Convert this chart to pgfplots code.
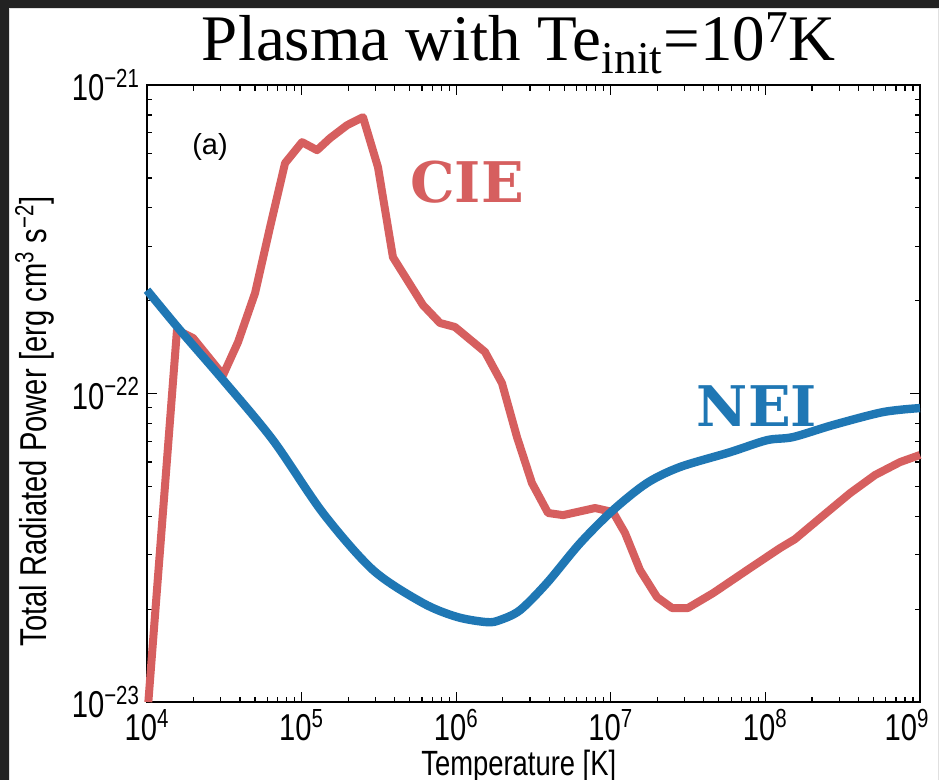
\documentclass[border=0pt]{standalone}
\usepackage{fontspec}
\setmainfont{Liberation Sans}
\newfontfamily\titlefont{Liberation Serif}
\newfontfamily\slabfont{DejaVu Serif}
\usepackage{graphicx}
\usepackage{pgfplots}
\pgfplotsset{compat=1.18}
\definecolor{cieRed}{HTML}{D65F5F}
\definecolor{neiBlue}{HTML}{1F77B4}
\definecolor{shotFrame}{HTML}{222222}
\newcommand\tall[1]{\scalebox{1}[1.28]{#1}}

\begin{document}
\begin{tikzpicture}
% screenshot frame: 1px = 0.5pt, axis box south west corner at (147,702)px
\fill[white] (-73.5pt,-39pt) rectangle (396pt,351pt);
\useasboundingbox (-73.5pt,-39pt) rectangle (396pt,351pt);
\fill[shotFrame] (-73.5pt,347pt) rectangle (396pt,351pt);
\fill[shotFrame] (-73.5pt,-39pt) rectangle (-69pt,351pt);
\draw[black!12, line width=0.5pt] (-68.75pt,-39pt) -- (-68.75pt,346.75pt) -- (396pt,346.75pt);
\draw[black!12, line width=0.5pt] (395.5pt,-39pt) -- (395.5pt,346.75pt);

\begin{axis}[
  at={(0,0)}, anchor=south west,
  scale only axis, width=386.5pt, height=308.5pt,
  xmode=log, ymode=log,
  xmin=1e4, xmax=1e9, ymin=1e-23, ymax=1e-21,
  clip=false,
  axis line style={line width=1pt},
  xtick pos=both, ytick pos=both, tick align=inside,
  major tick length=5pt, minor tick length=2.75pt,
  every tick/.style={black, line width=0.6pt},
  xtick={1e4,1e5,1e6,1e7,1e8,1e9},
  xticklabels={\tall{10\textsuperscript{4}},\tall{10\textsuperscript{5}},\tall{10\textsuperscript{6}},
    \tall{10\textsuperscript{7}},\tall{10\textsuperscript{8}},\tall{10\textsuperscript{9}}\kern13pt},
  minor xtick={2e4,3e4,4e4,5e4,6e4,7e4,8e4,9e4,
    2e5,3e5,4e5,5e5,6e5,7e5,8e5,9e5,
    2e6,3e6,4e6,5e6,6e6,7e6,8e6,9e6,
    2e7,3e7,4e7,5e7,6e7,7e7,8e7,9e7,
    2e8,3e8,4e8,5e8,6e8,7e8,8e8,9e8},
  ytick={1e-23,1e-22,1e-21},
  yticklabels={\tall{10\textsuperscript{−23}},\tall{10\textsuperscript{−22}},\tall{10\textsuperscript{−21}}},
  minor ytick={2e-23,3e-23,4e-23,5e-23,6e-23,7e-23,8e-23,9e-23,
    2e-22,3e-22,4e-22,5e-22,6e-22,7e-22,8e-22,9e-22},
  ticklabel style={font=\fontsize{14.6}{18}\selectfont},
  xlabel={\tall{Temperature [K]}},
  xlabel style={at={(axis description cs:0.481,-0.1183)}, anchor=base,
    font=\fontsize{13.7}{16}\selectfont},
  ylabel={\tall{Total Radiated Power [erg cm\textsuperscript{3} s\textsuperscript{−2}]}},
  ylabel style={at={(axis description cs:-0.145,0.455)}, anchor=center,
    font=\fontsize{14.6}{16}\selectfont},
  title={\titlefont\fontsize{32.5}{36}\selectfont Plasma with Te\textsubscript{init}=10\textsuperscript{7}K},
  title style={at={(axis description cs:0.481,1.021)}, anchor=base, inner sep=0pt},
]

% CIE
\addplot[cieRed, line width=4pt, line join=round] coordinates {
  (1.02e4,1.0e-23) (1.563e4,1.607e-22) (1.986e4,1.514e-22) (3.105e4,1.148e-22)
  (3.882e4,1.469e-22) (5.0e4,2.118e-22) (6.252e4,3.467e-22) (7.816e4,5.585e-22)
  (1.007e5,6.531e-22) (1.259e5,6.152e-22) (1.528e5,6.730e-22) (1.968e5,7.413e-22)
  (2.495e5,7.870e-22) (3.119e5,5.420e-22) (3.899e5,2.767e-22) (6.095e5,1.936e-22)
  (7.852e5,1.694e-22) (9.817e5,1.644e-22) (1.535e6,1.365e-22) (1.977e6,1.081e-22)
  (2.472e6,7.228e-23) (3.090e6,5.129e-23) (3.926e6,4.102e-23) (4.909e6,4.036e-23)
  (7.907e6,4.256e-23) (1.033e7,4.130e-23) (1.236e7,3.532e-23) (1.545e7,2.679e-23)
  (1.991e7,2.188e-23) (2.489e7,2.018e-23) (3.155e7,2.018e-23) (4.581e7,2.254e-23)
  (7.943e7,2.716e-23) (1.242e8,3.155e-23) (1.552e8,3.373e-23) (2.254e8,3.945e-23)
  (3.524e8,4.753e-23) (5.117e8,5.445e-23) (7.430e8,5.998e-23) (1.0e9,6.324e-23)
};

% NEI
\addplot[neiBlue, line width=4.2pt, line join=round, smooth, tension=0.5] coordinates {
  (1.0e4,2.163e-22) (1.633e4,1.607e-22) (3.105e4,1.107e-22) (6.531e4,7.063e-23)
  (1.374e5,4.102e-23) (2.897e5,2.679e-23) (6.095e5,2.094e-23) (1.012e6,1.888e-23)
  (1.581e6,1.816e-23) (1.919e6,1.845e-23) (2.588e6,1.986e-23) (3.864e6,2.432e-23)
  (6.324e6,3.273e-23) (1.033e7,4.188e-23) (1.714e7,5.129e-23) (2.805e7,5.781e-23)
  (5.902e7,6.457e-23) (1.023e8,7.063e-23) (1.510e8,7.228e-23) (2.735e8,7.907e-23)
  (5.768e8,8.710e-23) (1.0e9,8.974e-23)
};

\node[font=\fontsize{14.5}{16}\selectfont] at (axis description cs:0.0815,0.9) {(a)};
\node[font=\slabfont\bfseries\fontsize{28}{30}\selectfont, text=cieRed]
  at (axis description cs:0.414,0.843) {CIE};
\node[font=\slabfont\bfseries\fontsize{28}{30}\selectfont, text=neiBlue]
  at (axis description cs:0.789,0.48) {NEI};
\end{axis}
\end{tikzpicture}
\end{document}
